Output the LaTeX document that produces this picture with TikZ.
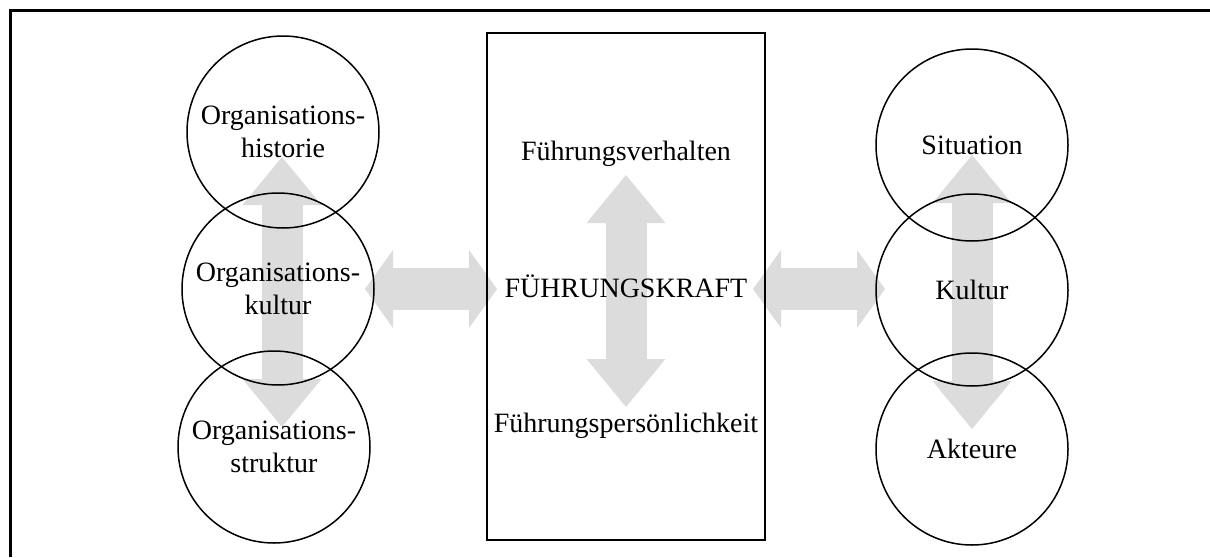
\documentclass[tikz,border=0pt]{standalone}
\usepackage{fontspec}
\setmainfont{Liberation Serif}
\usetikzlibrary{arrows.meta}
\definecolor{pfeilgrau}{RGB}{220,220,220}
\begin{document}
\begin{tikzpicture}[x=0.5pt,y=-0.5pt,
		kreis/.style={draw,circle,line width=0.75pt,minimum size=96pt,inner sep=0pt,align=center,font=\fontsize{14}{16.5}\selectfont},
		txt/.style={anchor=base,inner sep=0pt,font=\fontsize{14}{16.5}\selectfont},
		vpfeil/.style={color=pfeilgrau,line width=20.5pt,arrows={Triangle[width=39.5pt,length=24pt,line width=0pt]-Triangle[width=39.5pt,length=24pt,line width=0pt]}},
		hpfeil/.style={color=pfeilgrau,line width=21pt,arrows={Triangle[width=39pt,length=14pt,line width=0pt]-Triangle[width=39pt,length=14pt,line width=0pt]}}]
				\useasboundingbox (0,0) rectangle (1210,557);
				% Rahmen
				\draw[line width=1.5pt] (10.5,557) -- (10.5,10.5) -- (1210,10.5);
				% Endpunkte der Pfeile
				\coordinate (lo) at (282,157);
				\coordinate (lu) at (282,427);
				\coordinate (mo) at (626,175);
				\coordinate (mu) at (626,407);
				\coordinate (ro) at (972,155);
				\coordinate (ru) at (972,429);
				\coordinate (hl1) at (365,289);
				\coordinate (hl2) at (497,289);
				\coordinate (hr1) at (753,289);
				\coordinate (hr2) at (885,289);
				\draw[vpfeil] (lo) -- (lu);
				\draw[vpfeil] (mo) -- (mu);
				\draw[vpfeil] (ro) -- (ru);
				\draw[hpfeil] (hl1) -- (hl2);
				\draw[hpfeil] (hr1) -- (hr2);
				% linke Seite
				\node[kreis] (ohist) at (283,132) {Organisations-\\historie};
				\node[kreis] (okult) at (278,289) {Organisations-\\kultur};
				\node[kreis] (ostruk) at (274,447) {Organisations-\\struktur};
				% Mitte
				\node[draw,line width=0.75pt,minimum width=139pt,minimum height=253.5pt,inner sep=0pt] (kasten) at (626,286.5) {};
				\node[txt] (verh) at (626,160) {Führungsverhalten};
				\node[txt] (fk) at (626,297) {FÜHRUNGSKRAFT};
				\node[txt] (pers) at (626,432) {Führungspersönlichkeit};
				% rechte Seite
				\node[kreis] (sit) at (972,145) {Situation};
				\node[kreis] (kult) at (972,290) {Kultur};
				\node[kreis] (akt) at (972,449) {Akteure};
			\end{tikzpicture}
\end{document}
